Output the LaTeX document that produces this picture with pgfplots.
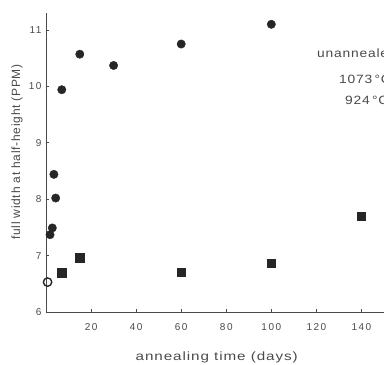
\documentclass[border=0pt]{standalone}
\usepackage{pgfplots}
\pgfplotsset{compat=1.18}
\usepackage{fontspec}
\setmainfont{Liberation Sans}
\newfontfamily\lbl[LetterSpace=6]{Liberation Sans}
\newfontfamily\tck[LetterSpace=15]{Liberation Sans}
\definecolor{ink}{HTML}{262626}
\definecolor{txt}{HTML}{4A4A4A}
\begin{document}
\begin{tikzpicture}
\path[use as bounding box, clip] (-46pt,-53pt) rectangle (338pt,312pt);
\begin{axis}[
  at={(0pt,0pt)}, anchor=south west,
  width=338pt, height=299pt, scale only axis,
  xmin=0, xmax=150, ymin=6, ymax=11.3,
  axis x line=bottom, axis y line=left,
  axis line style={-, draw=txt, line width=0.8pt},
  xtick={20,40,...,140}, ytick={6,7,...,11},
  tick style={draw=txt, line width=0.6pt},
  major tick length=3pt,
  tick align=inside,
  ticklabel style={font=\tck\fontsize{10}{11}\selectfont, text=txt},
  /pgf/number format/assume math mode=true,
  xticklabel style={yshift=-8pt},
  yticklabel style={xshift=-1pt},
  clip=false,
]
% 1073 C (filled circles)
\addplot[only marks, mark=*, mark size=4.2pt, mark options={fill=ink, draw=ink}] coordinates {
 (100,11.1) (60,10.75) (30,10.37) (15,10.57) (7,9.94) (3.5,8.44) (4.3,8.02) (2.8,7.49) (1.8,7.37)
};
% 924 C (filled squares)
\addplot[only marks, mark=square*, mark size=4.2pt, mark options={fill=ink, draw=ink}] coordinates {
 (7,6.70) (15,6.96) (60,6.71) (100,6.87) (140,7.70)
};
% unannealed (open circle)
\addplot[only marks, mark=o, mark size=4.2pt, mark options={draw=ink, line width=1.4pt}] coordinates {
 (0.7,6.53)
};
\end{axis}
\node[rotate=90, text=txt, font=\lbl\fontsize{12}{14}\selectfont] at (-29pt,160pt) {full width at half-height (PPM)};
\node[text=txt, font=\lbl\fontsize{12}{14}\selectfont, xscale=1.27] at (170.7pt,-45pt) {annealing time (days)};
\node[anchor=west, text=txt, font=\lbl\fontsize{12}{13}\selectfont, xscale=1.15] at (267pt,259pt) {unannealed};
\node[anchor=west, text=txt, font=\lbl\fontsize{12}{13}\selectfont, xscale=1.15] at (289pt,233pt) {1073\,°C};
\node[anchor=west, text=txt, font=\lbl\fontsize{12}{13}\selectfont, xscale=1.15] at (295pt,212pt) {924\,°C};
\end{tikzpicture}
\end{document}
